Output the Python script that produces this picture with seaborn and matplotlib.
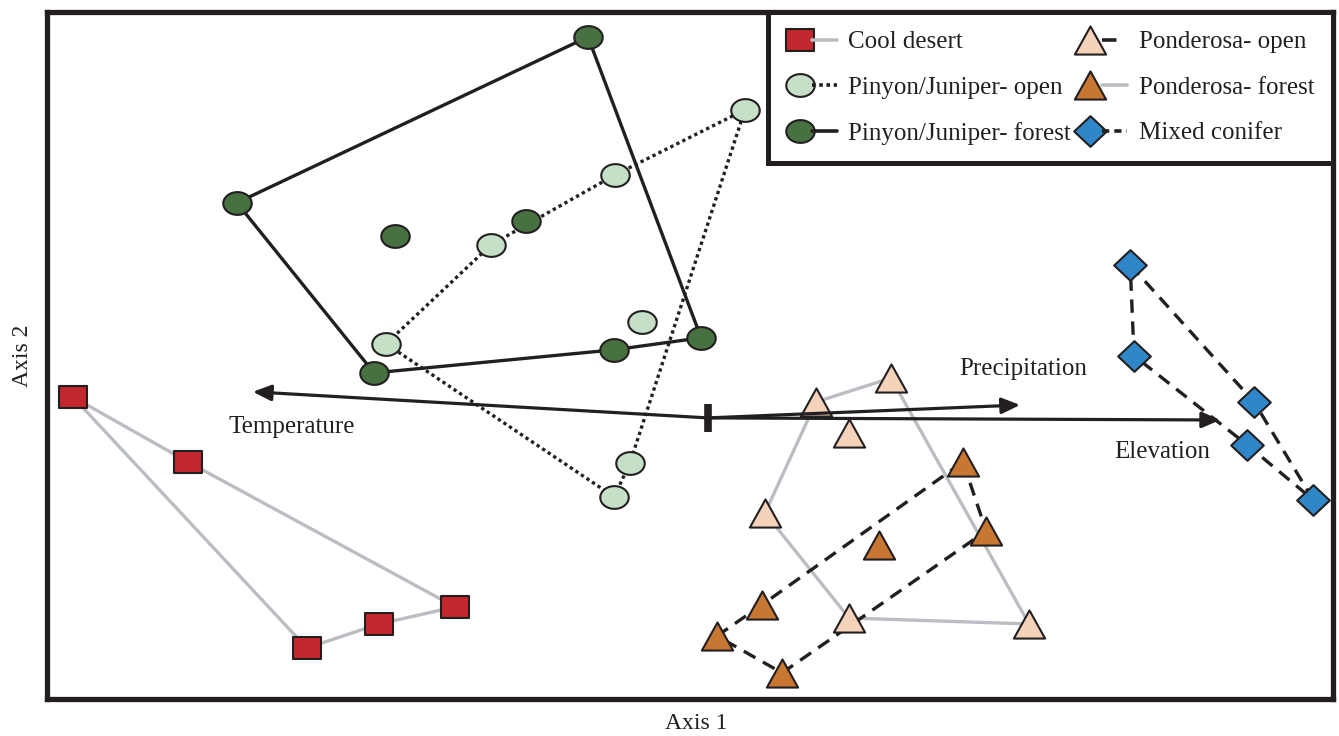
import numpy as np
import pandas as pd
import seaborn as sns
import matplotlib.pyplot as plt
from matplotlib.path import Path
from matplotlib.lines import Line2D
from matplotlib.legend_handler import HandlerTuple

# ordination scores per site (axis 1, axis 2), hull order given by index lists
cool_desert_x = [-2.117, -1.733, -1.337, -1.097, -0.843]
cool_desert_y = [0.070, -0.147, -0.767, -0.687, -0.630]
cool_desert_hull = [0, 1, 4, 3, 2]

pj_open_x = [0.123, -0.310, -0.723, -1.073, -0.313, -0.260, -0.220]
pj_open_y = [1.027, 0.810, 0.577, 0.247, -0.263, -0.150, 0.320]
pj_open_hull = [0, 1, 2, 3, 4, 5]

pj_forest_x = [-0.400, -1.570, -1.113, -0.313, -0.023, -1.043, -0.607]
pj_forest_y = [1.270, 0.717, 0.150, 0.227, 0.267, 0.607, 0.657]
pj_forest_hull = [0, 1, 2, 3, 4]

pond_open_x = [0.360, 0.610, 1.070, 0.470, 0.190, 0.470]
pond_open_y = [0.053, 0.133, -0.687, -0.667, -0.317, -0.050]
pond_open_hull = [0, 1, 2, 3, 4]

pond_forest_x = [0.850, 0.927, 0.247, 0.030, 0.180, 0.570]
pond_forest_y = [-0.147, -0.377, -0.850, -0.727, -0.623, -0.423]
pond_forest_hull = [0, 1, 2, 3, 4]

mixed_x = [1.407, 1.820, 2.017, 1.797, 1.420]
mixed_y = [0.510, 0.053, -0.273, -0.090, 0.207]
mixed_hull = [0, 1, 2, 3, 4]

# environmental vectors
env_names = ["Temperature", "Precipitation", "Elevation"]
env_x = [-1.517, 1.040, 1.707]
env_y = [0.087, 0.043, -0.007]

groups = ["Cool desert", "Pinyon/Juniper- open", "Pinyon/Juniper- forest",
          "Ponderosa- open", "Ponderosa- forest", "Mixed conifer"]
group_x = [cool_desert_x, pj_open_x, pj_forest_x, pond_open_x, pond_forest_x, mixed_x]
group_y = [cool_desert_y, pj_open_y, pj_forest_y, pond_open_y, pond_forest_y, mixed_y]
group_hull = [cool_desert_hull, pj_open_hull, pj_forest_hull,
              pond_open_hull, pond_forest_hull, mixed_hull]


def marker_path(kind, r):
    if kind == "ellipse":
        t = np.linspace(0, 2 * np.pi, 64)
        verts = np.column_stack([np.cos(t), r * np.sin(t)])
    elif kind == "rect":
        verts = [(-1, -r), (1, -r), (1, r), (-1, r), (-1, -r)]
    elif kind == "tri":
        verts = [(0, r), (-1, -r), (1, -r), (0, r)]
    else:
        verts = [(0, r), (1, 0), (0, -r), (-1, 0), (0, r)]
    return Path(verts, closed=True)


GREY = "#BABEC3"
INK = "#231F20"
DOT = (0, (1, 1))
DASH = (0, (4, 2.6))

# fill, marker, marker size (pt), hull colour, hull style, legend line colour, legend line style
styles = {
    "Cool desert": ("#C1272D", marker_path("rect", 0.78), 20.5, GREY, "-", GREY, "-"),
    "Pinyon/Juniper- open": ("#C6E0C8", marker_path("ellipse", 0.8), 20.5, INK, DOT, INK, DOT),
    "Pinyon/Juniper- forest": ("#477140", marker_path("ellipse", 0.8), 20.5, INK, "-", INK, "-"),
    "Ponderosa- open": ("#F5D2BA", marker_path("tri", 0.9), 22.5, GREY, "-", INK, (0, (4, 10))),
    "Ponderosa- forest": ("#C77732", marker_path("tri", 0.9), 22.5, INK, DASH, GREY, "-"),
    "Mixed conifer": ("#2F86C8", marker_path("diamond", 0.94), 23.5, INK, DASH, INK, (0, (2, 1.4))),
}

sns.set_style("white")
plt.rcParams["font.family"] = ["Liberation Serif", "DejaVu Serif"]
plt.rcParams["text.color"] = INK
plt.rcParams["axes.labelcolor"] = INK

fig = plt.figure(figsize=(13.39, 7.36), dpi=100)
ax = fig.add_axes([47 / 1339, 37 / 736, 1286 / 1339, 687 / 736])

handles = []
for name, xs, ys, hull in zip(groups, group_x, group_y, group_hull):
    fill, mk, ms, lc, ls, leg_c, leg_ls = styles[name]
    df = pd.DataFrame({"x": xs, "y": ys})
    ring = df.iloc[hull + hull[:1]].reset_index(drop=True)
    sns.lineplot(data=ring, x="x", y="y", sort=False, estimator=None, ax=ax,
                 color=lc, linestyle=ls, linewidth=2.4, zorder=2,
                 dash_capstyle="butt")
    sns.scatterplot(data=df, x="x", y="y", ax=ax, marker=mk, s=ms ** 2,
                    color=fill, edgecolor=INK, linewidth=1.5, zorder=3)
    h_mark = Line2D([], [], ls="none", marker=mk, markersize=ms,
                    markerfacecolor=fill, markeredgecolor=INK, markeredgewidth=1.5)
    h_line = Line2D([], [], color=leg_c, linestyle=leg_ls, linewidth=2.6,
                    dash_capstyle="butt")
    handles.append((h_mark, h_line))

# environmental vectors from the centroid
label_offsets = {"Temperature": (28, -25), "Precipitation": (2, 26), "Elevation": (-42, -23)}
for name, vx, vy in zip(env_names, env_x, env_y):
    ax.annotate("", xy=(vx, vy), xytext=(0, 0), zorder=4,
                arrowprops=dict(arrowstyle="-|>,head_length=0.55,head_width=0.24",
                                mutation_scale=20, lw=2.3, color=INK,
                                shrinkA=0, shrinkB=0))
    ax.annotate(name, xy=(vx, vy), xytext=label_offsets[name],
                textcoords="offset points", ha="center", va="center",
                fontsize=18, color=INK, zorder=5)
ax.plot([0], [0], marker="|", markersize=20, markeredgewidth=5.5, color=INK, zorder=5)

ax.set_xlim(-2.203, 2.083)
ax.set_ylim(-0.937, 1.353)
ax.set_xticks([])
ax.set_yticks([])
for sp in ax.spines.values():
    sp.set_visible(True)
    sp.set_linewidth(3.8)
    sp.set_color(INK)

ax.set_xlabel("Axis 1", fontsize=17)
ax.set_ylabel("Axis 2", fontsize=17)
ax.xaxis.set_label_coords(0.505, -0.02)
ax.yaxis.set_label_coords(-0.011, 0.5)

leg = ax.legend(handles, groups, ncol=2, loc="upper right", bbox_to_anchor=(1, 1),
                borderaxespad=0, fontsize=18, frameon=True, fancybox=False,
                handler_map={tuple: HandlerTuple(ndivide=None, pad=0)},
                handlelength=2.0, handletextpad=0.45, columnspacing=0.25,
                labelspacing=0.92, borderpad=0.75)
leg.get_frame().set_edgecolor(INK)
leg.get_frame().set_linewidth(3.6)
leg.get_frame().set_alpha(1)
leg.set_zorder(6)

fig.savefig("out.png", dpi=100)
